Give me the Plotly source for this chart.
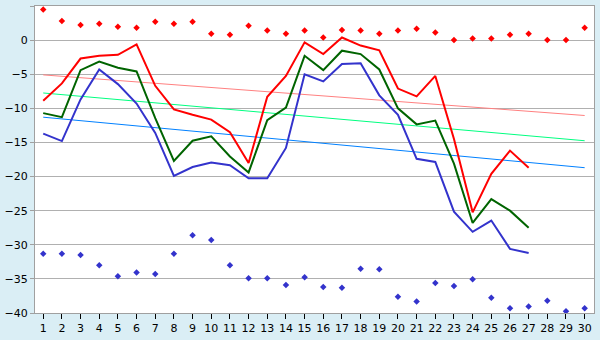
import plotly.graph_objects as go

# Daily readings
days = list(range(1, 31))
line_days = list(range(1, 28))

upper = [-8.9, -6.35, -2.7, -2.3, -2.15, -0.62, -6.7, -10.15, -10.95, -11.65,
         -13.5, -18.0, -8.3, -5.25, -0.33, -2.05, 0.38, -0.8, -1.5, -7.1,
         -8.25, -5.25, -14.5, -25.25, -19.6, -16.2, -18.7]
middle = [-10.7, -11.3, -4.4, -3.15, -4.05, -4.6, -11.45, -17.7, -14.75, -14.1,
          -17.05, -19.4, -11.75, -9.9, -2.3, -4.4, -1.55, -2.05, -4.3, -10.0,
          -12.35, -11.8, -18.1, -26.8, -23.3, -25.0, -27.5]
lower = [-13.7, -14.8, -8.7, -4.3, -6.45, -9.3, -13.6, -19.9, -18.6, -17.95,
         -18.35, -20.25, -20.25, -15.8, -5.0, -6.05, -3.5, -3.4, -8.1, -10.95,
         -17.4, -17.85, -25.15, -28.1, -26.45, -30.6, -31.2]

daily_max = [4.5, 2.8, 2.2, 2.4, 1.95, 1.8, 2.7, 2.4, 2.7, 0.95,
             0.8, 2.1, 1.4, 0.95, 1.4, 0.4, 1.5, 1.4, 0.95, 1.4,
             1.65, 1.1, 0.0, 0.25, 0.25, 0.8, 0.95, 0.0, 0.0, 1.8]
daily_min = [-31.3, -31.3, -31.5, -33.0, -34.6, -34.05, -34.3, -31.3, -28.6, -29.3,
             -33.0, -34.9, -34.9, -35.9, -34.75, -36.2, -36.3, -33.5, -33.6, -37.6,
             -38.3, -35.6, -36.05, -35.05, -37.75, -39.3, -39.05, -38.2, -39.75, -39.3]

# Trend lines, value at first and last day
trend_days = [1, 30]
upper_trend = [-5.1, -11.05]
middle_trend = [-7.75, -14.75]
lower_trend = [-11.3, -18.7]

y_ticks = [5, 0, -5, -10, -15, -20, -25, -30, -35, -40]

fig = go.Figure()

for vals, col in [(upper_trend, "#ff8080"), (middle_trend, "#00ff80"), (lower_trend, "#0080ff")]:
    fig.add_trace(go.Scatter(x=trend_days, y=vals, mode="lines",
                             line=dict(color=col, width=1), hoverinfo="skip"))

for vals, col, w in [(upper, "#ff0000", 2), (middle, "#006400", 2), (lower, "#3333cc", 2)]:
    fig.add_trace(go.Scatter(x=line_days, y=vals, mode="lines",
                             line=dict(color=col, width=w)))

fig.add_trace(go.Scatter(x=days, y=daily_max, mode="markers",
                         marker=dict(symbol="diamond", size=5, color="#ff0000")))
fig.add_trace(go.Scatter(x=days, y=daily_min, mode="markers",
                         marker=dict(symbol="diamond", size=5, color="#3333cc")))

fig.update_layout(
    width=600, height=340,
    margin=dict(l=27, r=5, t=5, b=20),
    paper_bgcolor="#daeef5",
    plot_bgcolor="#ffffff",
    showlegend=False,
    font=dict(family="DejaVu Sans", size=11, color="#000000"),
)
fig.update_xaxes(range=[0.56, 30.5], tickmode="array", tickvals=days,
                 showgrid=False, zeroline=False,
                 showline=True, linecolor="#a0a0a0", linewidth=1, mirror=True,
                 ticks="outside", ticklen=5, tickcolor="#000000")
fig.update_yaxes(range=[-40, 5], tickmode="array", tickvals=y_ticks,
                 showgrid=True, gridcolor="#b0b0b0", gridwidth=1, zeroline=False,
                 showline=True, linecolor="#a0a0a0", linewidth=1, mirror=True,
                 ticks="outside", ticklen=4, tickcolor="#a0a0a0")

fig.write_html("out.html")
